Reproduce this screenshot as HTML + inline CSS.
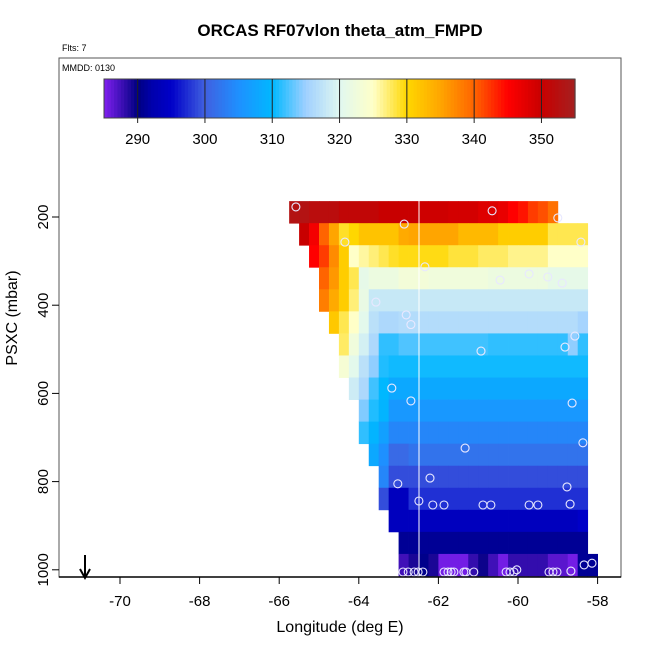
<!DOCTYPE html>
<html><head><meta charset="utf-8"><style>
body{margin:0;background:#fff}
svg{display:block;font-family:"Liberation Sans",Arial,sans-serif}
</style></head><body>
<svg id="chart" width="650" height="650" viewBox="0 0 650 650">
<text x="340" y="36" text-anchor="middle" font-size="17" font-weight="bold">ORCAS RF07vlon theta_atm_FMPD</text>
<text x="62" y="51" font-size="9">Flts: 7</text>
<rect x="59" y="58" width="562" height="519" fill="none" stroke="#555" stroke-width="1"/>
<text x="62" y="71" font-size="9">MMDD: 0130</text>
<g id="cells"></g>
<line x1="419" y1="201" x2="419" y2="577" stroke="#fff" stroke-width="1"/>
<g id="pts"></g>
<g id="cbar"></g>
<g id="axes"></g>
<line x1="85" y1="555" x2="85" y2="577" stroke="#000" stroke-width="2"/>
<path d="M80,569 L85,578 L90,569" fill="none" stroke="#000" stroke-width="2"/>
<text x="340" y="632" text-anchor="middle" font-size="16">Longitude (deg E)</text>
<text transform="translate(17,318) rotate(-90)" text-anchor="middle" font-size="16">PSXC (mbar)</text>
</svg>
<script>
const rowStart=[0,1,2,3,3,4,5,5,6,7,7,8,9,9,10,11,11];
const row0=[353,353,352,352,352,351,351,351,351,350,350,350,350,349.5,349.5,349.5,349,349,349,348,348,347,345,344,342,341,339];
const row1=[350,346,340,335,329,330,332,332,332,332,334.5,335,335,335,335,335,333,333,333,333,331,331,331,331,331,328,328,328,328];
const row2=[345,342,337,331,325,326,327,328,329,329.5,329.5,329.5,329.5,329.5,328.5,328.5,328.5,327.5,327.5,327.5,326.5,326.5,326.5,326.5,325,325,325,325];
const row3=[340,336,331,328,321,322,322,322,323,323,323,322.5,322.5,322.5,322.5,322.5,322.5,322,322,322,322,322,322,321,321,321,321];
const row4=[338,334.5,331,327,321.5,318,318,318,318,318,318,318,318,318,318,318,318,318,318,318,318,318,318,318,318,318,318];
const row5=[331.5,328,325,320.5,317,316,316,316.5,316.5,316.5,316.5,316.5,316.5,316.5,316.5,316.5,316.5,316.5,316.5,316.5,316.5,316.5,316.5,316.5,316.5,315.5];
const row6=[327.5,322.5,319,316,311.5,311.5,312.5,312.5,312,312,312,312,312,312,312,311.5,311.5,311.5,311.5,311.5,311.5,311.5,311.5,314.5,311.5];
const row7=[323.5,320.5,317,314.5,311,310.5,310.5,310.5,310.5,310.5,310.5,310.5,310.5,310.5,310.5,310.5,310.5,310.5,310.5,310.5,310.5,310.5,310.5,310.5,310.5];
const row8=[318.5,316,312,310,308,308,308,308,308,308,308,308,308,308,308,308,308,308,308,308,308,308,308,308];
const row9=[314,311,309.5,306,306,306,306,306,306,306,306,306,306,306,306,306,306,306,306,306,306,306,306];
const row10=[311.5,309.5,307,304,304,304,304,304,304,304,304,304,304,304,304,304,304,304,304,304,304,304,304];
const row11=[308,305,301,301,302,302,302,302,302,302,302,302,302,302,302,302,302,302,302,302,302,302];
const row12=[304,299,299,299,299,299,299,299,299,299,299,299,299,299,299,299,299,299,299,299,299];
const row13=[299,294,294,297.5,297.5,297.5,297.5,297.5,297.5,297.5,297.5,297.5,297.5,297.5,297.5,297.5,297.5,297.5,297.5,297.5,297.5];
const row14=[294,294,294,294,294,294,294,294,294,294,294,294,294,294,294,294,294,294,294,295];
const row15=[291,291,291,291,291,291,291,291,291,291,291,291,291,291,291,291,291,291,291];
const row16=[287.5,289,290.5,289,285.5,285.5,285.5,288,289.5,287.5,285.5,288,288,288,288,286.5,286.5,285.5,291,291];
const rows=[row0,row1,row2,row3,row4,row5,row6,row7,row8,row9,row10,row11,row12,row13,row14,row15,row16];
const ptLon=[-65.58,-62.86,-60.65,-59.0,-64.35,-58.42,-62.34,-60.45,-59.72,-59.25,-58.89,-63.57,-62.81,-62.69,-60.93,-58.57,-58.82,-63.17,-62.69,-58.64,-61.33,-58.37,-63.02,-62.21,-58.77,-62.49,-62.14,-61.86,-60.88,-60.68,-59.72,-59.5,-58.69,-62.89,-62.76,-62.61,-62.51,-62.39,-61.86,-61.76,-61.68,-61.61,-61.36,-61.31,-61.11,-60.3,-60.2,-60.1,-60.03,-59.22,-59.12,-59.02,-58.67,-58.34,-58.14];
const ptP=[177,216,186,202,257,257,313,343,329,336,350,393,422,444,504,470,495,588,617,622,724,712,805,792,812,844,853,853,853,853,853,853,851,1005,1005,1005,1005,1005,1005,1005,1005,1005,1005,1005,1005,1005,1005,1005,1000,1005,1005,1005,1003,989,985];
const xTicks=[-70,-68,-66,-64,-62,-60,-58];
const yTicks=[200,400,600,800,1000];
const cbTicks=[290,300,310,320,330,340,350];
const stopV=[285,290,292,295,300,305,310,315,320,325,330,335,340,345,350,355];
const stopC=[[128,32,240],[0,0,128],[0,0,170],[0,0,200],[64,96,224],[30,144,255],[0,184,255],[160,208,255],[224,248,240],[255,255,200],[255,215,0],[255,165,0],[255,100,0],[255,0,0],[200,0,0],[165,32,32]];
const lon0=-65.75, dLon=0.25, p0=164, dP=50;
const NS='http://www.w3.org/2000/svg';
const sx=l=>120+(l+70)*39.8;
const sy=p=>217+(p-200)*0.441;
function col(v){
  if(v<=stopV[0])return 'rgb('+stopC[0]+')';
  for(let i=1;i<stopV.length;i++){if(v<=stopV[i]){const t=(v-stopV[i-1])/(stopV[i]-stopV[i-1]);const a=stopC[i-1],b=stopC[i];return 'rgb('+a.map((x,k)=>Math.round(x+(b[k]-x)*t)).join(',')+')';}}
  return 'rgb('+stopC[stopC.length-1]+')';
}
function mk(tag,attrs,parent){const e=document.createElementNS(NS,tag);for(const k in attrs)e.setAttribute(k,attrs[k]);parent.appendChild(e);return e;}
const cells=document.getElementById('cells');
rows.forEach((r,ri)=>{r.forEach((v,ci)=>{
  const c=rowStart[ri]+ci;
  const x1=sx(lon0+c*dLon),x2=sx(lon0+(c+1)*dLon),y1=sy(p0+ri*dP),y2=sy(p0+(ri+1)*dP);
  const e=mk('rect',{x:x1.toFixed(2),y:y1.toFixed(2),width:(x2-x1+0.4).toFixed(2),height:(y2-y1+0.4).toFixed(2),fill:col(v)},cells);
  
  
});});
const pts=document.getElementById('pts');
ptLon.forEach((l,i)=>{
  const e=mk('circle',{cx:sx(l).toFixed(1),cy:sy(ptP[i]).toFixed(1),r:4,fill:'none',stroke:'#e8e8ff','stroke-width':1.1},pts);
  
  
});
const cb=document.getElementById('cbar');
const cx=v=>104+(v-285)*6.73;
for(let v=285;v<355;v+=0.5){
  const e=mk('rect',{x:cx(v).toFixed(2),y:79,width:3.9,height:39,fill:col(v+0.25)},cb);
  
  
}
mk('rect',{x:104,y:79,width:471,height:39,fill:'none',stroke:'#444','stroke-width':1},cb);
cbTicks.forEach(t=>{
  const l=mk('line',{x1:cx(t),x2:cx(t),y1:79,y2:123,stroke:'#222','stroke-width':1},cb);
  
  
  const tx=mk('text',{x:cx(t),y:144,'text-anchor':'middle','font-size':15},cb);
  tx.textContent=t;
  
  
});
const ax=document.getElementById('axes');
xTicks.forEach(t=>{
  const l=mk('line',{x1:sx(t),x2:sx(t),y1:577,y2:584,stroke:'#000'},ax);
  
  
  const tx=mk('text',{x:sx(t),y:606,'text-anchor':'middle','font-size':15},ax);
  tx.textContent=t;
  
  
});
yTicks.forEach(t=>{
  const l=mk('line',{x1:52,x2:59,y1:sy(t),y2:sy(t),stroke:'#000'},ax);
  
  
  const tx=mk('text',{transform:'translate(48,'+sy(t).toFixed(1)+') rotate(-90)','text-anchor':'middle','font-size':15},ax);
  tx.textContent=t;
  
  
});
mk('line',{x1:59,x2:621,y1:577,y2:577,stroke:'#000','stroke-width':1.5},ax);
</script>
</body></html>
